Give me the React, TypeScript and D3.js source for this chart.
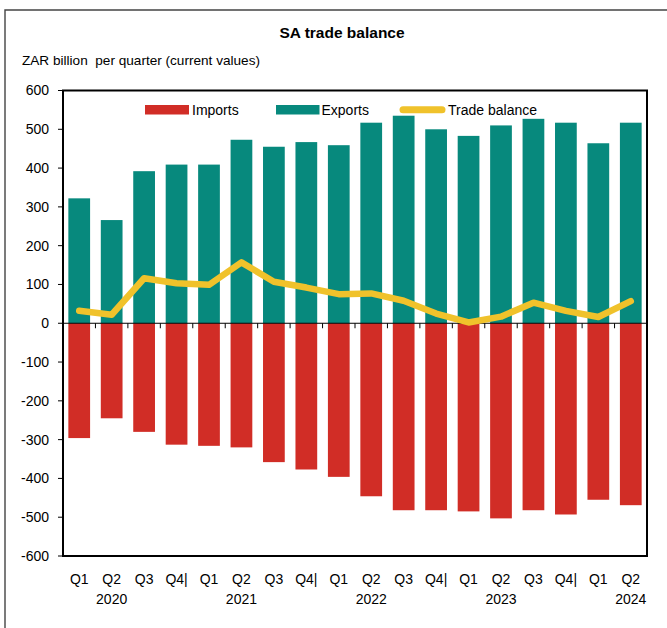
import React from "react";
import * as d3 from "d3";

const quarters = ["Q1", "Q2", "Q3", "Q4|", "Q1", "Q2", "Q3", "Q4|", "Q1", "Q2", "Q3", "Q4|", "Q1", "Q2", "Q3", "Q4|", "Q1", "Q2"];
const years = ["", "2020", "", "", "", "2021", "", "", "", "2022", "", "", "", "2023", "", "", "", "2024"];
const exportsV = [322, 266, 392, 409, 409, 473, 455, 467, 459, 517, 535, 500, 483, 510, 527, 517, 464, 517];
const importsV = [-296, -245, -280, -313, -316, -320, -358, -377, -396, -446, -482, -482, -485, -503, -482, -493, -455, -469];
const balanceV = [32, 22, 116, 103, 99, 157, 107, 92, 75, 77, 58, 25, 2, 17, 53, 32, 16, 57];
const yTicks = [600, 500, 400, 300, 200, 100, 0, -100, -200, -300, -400, -500, -600];

const W = 667, H = 628;
const L = 63, R = 647, T = 90.5, B = 556;
const RED = "#D12D26", TEAL = "#07897D", YEL = "#F0C22B";
const FONT = "'Liberation Sans', Arial, sans-serif";

export default function App() {
  const idx = quarters.map((_, i) => i);
  const x = d3.scaleBand<number>().domain(idx).range([L, R]).paddingInner(0.33).paddingOuter(0.165);
  const y = d3.scaleLinear().domain([-600, 600]).range([B, T]);
  const step = (R - L) / quarters.length;
  const cx = (i: number) => (x(i) as number) + x.bandwidth() / 2;
  const line = d3.line<number>().x((_, i) => cx(i)).y((d) => y(d)).curve(d3.curveLinear);
  const y0 = y(0);

  return (
    <svg width={W} height={H} style={{ position: "absolute", left: 0, top: 0, background: "#fff" }} fontFamily={FONT}>
      {/* outer frame */}
      <path d={`M5,${H} L5,10 L${W},10`} fill="none" stroke="#444" strokeWidth={1.4} />
      <text x={342} y={38} textAnchor="middle" fontWeight="bold" fontSize={15.5}>SA trade balance</text>
      <text x={22} y={65} fontSize={13.6} style={{ whiteSpace: "pre" }}>ZAR billion  per quarter (current values)</text>

      {/* bars */}
      {exportsV.map((v, i) => (
        <rect key={"e" + i} x={x(i)} y={y(v)} width={x.bandwidth()} height={y0 - y(v)} fill={TEAL} />
      ))}
      {importsV.map((v, i) => (
        <rect key={"m" + i} x={x(i)} y={y0} width={x.bandwidth()} height={y(v) - y0} fill={RED} />
      ))}
      {/* zero line and ticks */}
      <line x1={L} x2={R} y1={y0} y2={y0} stroke="#000" strokeWidth={1} />
      {d3.range(1, quarters.length).map((k) => (
        <line key={"xt" + k} x1={L + k * step} x2={L + k * step} y1={y0} y2={y0 + 5} stroke="#000" strokeWidth={1} />
      ))}
      {/* balance line */}
      <path d={line(balanceV) || ""} fill="none" stroke={YEL} strokeWidth={6.5} strokeLinejoin="round" strokeLinecap="round" />

      {/* plot border */}
      <rect x={L} y={T} width={R - L} height={B - T} fill="none" stroke="#000" strokeWidth={2} />
      {/* y axis */}
      {yTicks.map((t) => (
        <g key={"yt" + t}>
          <line x1={L - 5} x2={L} y1={y(t)} y2={y(t)} stroke="#000" strokeWidth={1} />
          <text x={49} y={y(t)} dy="0.35em" textAnchor="end" fontSize={14}>{t}</text>
        </g>
      ))}
      {/* x labels */}
      {quarters.map((q, i) => (
        <text key={"q" + i} x={cx(i)} y={584} textAnchor="middle" fontSize={14}>{q}</text>
      ))}
      {years.map((yr, i) => yr ? (
        <text key={"y" + i} x={cx(i)} y={604} textAnchor="middle" fontSize={14}>{yr}</text>
      ) : null)}

      {/* legend */}
      <rect x={145} y={105} width={44} height={9.5} fill={RED} />
      <text x={192} y={114.5} fontSize={14}>Imports</text>
      <rect x={276} y={105} width={43.5} height={9.5} fill={TEAL} />
      <text x={321.5} y={114.5} fontSize={14}>Exports</text>
      <line x1={403} x2={442} y1={109.8} y2={109.8} stroke={YEL} strokeWidth={7} strokeLinecap="round" />
      <text x={448} y={114.5} fontSize={14}>Trade balance</text>
    </svg>
  );
}
